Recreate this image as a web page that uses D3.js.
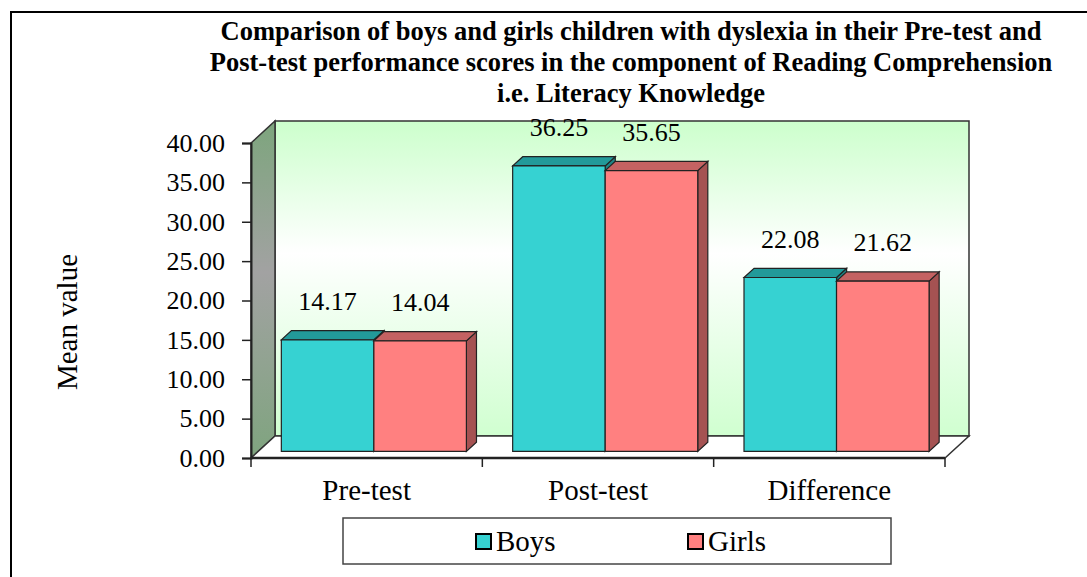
<!DOCTYPE html>
<html>
<head>
<meta charset="utf-8">
<script src="https://cdn.jsdelivr.net/npm/d3@7"></script>
<style>
  body { margin: 0; background: #fff; }
  svg text { font-family: "Liberation Serif", "Times New Roman", serif !important; fill: #000; }
</style>
</head>
<body>
<script>
// Chart data
var categories = ["Pre-test", "Post-test", "Difference"];
var seriesNames = ["Boys", "Girls"];
var boysValues = [14.17, 36.25, 22.08];
var girlsValues = [14.04, 35.65, 21.62];
var yTicks = [0, 5, 10, 15, 20, 25, 30, 35, 40];
var titleLines = [
  "Comparison of boys and girls children with dyslexia in their Pre-test and",
  "Post-test performance scores in the component of Reading Comprehension",
  "i.e. Literacy Knowledge"
];

var width = 1087, height = 577;
var serif = "'Liberation Serif', 'Times New Roman', serif";

// plot geometry (front plane)
var plotLeft = 251, plotRight = 945, plotBottom = 458, plotTop = 143;
var depth = [24, -22];          // full depth of the 3d box
var barFront = 0.3, barBack = 0.72;  // where bars sit in the depth

var colors = {
  Boys:  { front: "#36d2d2", top: "#229a9a", side: "#1d8585" },
  Girls: { front: "#ff8080", top: "#c46262", side: "#a55252" }
};

var svg = d3.select("body")
            .append("svg")
            .attr("width", width)
            .attr("height", height)
            .attr("font-family", serif);

var defs = svg.append("defs");
var wallGrad = defs.append("linearGradient")
  .attr("id", "wallGrad").attr("x1", 0).attr("y1", 0).attr("x2", 0).attr("y2", 1);
wallGrad.append("stop").attr("offset", "0%").attr("stop-color", "#ccffcc");
wallGrad.append("stop").attr("offset", "42%").attr("stop-color", "#ffffff");
wallGrad.append("stop").attr("offset", "100%").attr("stop-color", "#d0ffd0");

var sideGrad = defs.append("linearGradient")
  .attr("id", "sideGrad").attr("x1", 0).attr("y1", 0).attr("x2", 0).attr("y2", 1);
sideGrad.append("stop").attr("offset", "0%").attr("stop-color", "#7da57d");
sideGrad.append("stop").attr("offset", "45%").attr("stop-color", "#a2a2a2");
sideGrad.append("stop").attr("offset", "100%").attr("stop-color", "#7fa47f");

// outer frame
svg.append("rect")
   .attr("x", 11).attr("y", 12)
   .attr("width", 1100).attr("height", 600)
   .attr("fill", "none").attr("stroke", "#000").attr("stroke-width", 2);

// scales
var y = d3.scaleLinear().domain([0, 40]).range([plotBottom, plotTop]);
var x = d3.scaleBand().domain(categories).range([plotLeft, plotRight])
          .paddingInner(0.2).paddingOuter(0.1);
var xs = d3.scaleBand().domain(seriesNames).range([0, x.bandwidth()]);

function pt(px, py, t) {
  return [px + depth[0] * t, py + depth[1] * t];
}
function poly(points) {
  return points.map(function(p) { return p.join(","); }).join(" ");
}

// walls and floor
var backL = pt(plotLeft, plotTop, 1), backR = pt(plotRight, plotTop, 1);
var backBL = pt(plotLeft, plotBottom, 1), backBR = pt(plotRight, plotBottom, 1);

svg.append("polygon")
   .attr("points", poly([backL, backR, backBR, backBL]))
   .attr("fill", "url(#wallGrad)").attr("stroke", "#333").attr("stroke-width", 1.5);

svg.append("polygon")
   .attr("points", poly([[plotLeft, plotTop], backL, backBL, [plotLeft, plotBottom]]))
   .attr("fill", "url(#sideGrad)").attr("stroke", "#333").attr("stroke-width", 1.5);

svg.append("polygon")
   .attr("points", poly([[plotLeft, plotBottom], [plotRight, plotBottom], backBR, backBL]))
   .attr("fill", "#ffffff").attr("stroke", "#333").attr("stroke-width", 1.5);

// bars
var data = [];
categories.forEach(function(c, i) {
  data.push({ cat: c, s: "Boys", v: boysValues[i] });
  data.push({ cat: c, s: "Girls", v: girlsValues[i] });
});

var bars = svg.selectAll("g.bar")
  .data(data)
  .enter()
  .append("g")
  .attr("class", "bar");

bars.each(function(d) {
  var g = d3.select(this);
  var x0 = x(d.cat) + xs(d.s), x1 = x0 + xs.bandwidth();
  var yb = plotBottom, yt = y(d.v);
  var fBL = pt(x0, yb, barFront), fBR = pt(x1, yb, barFront);
  var fTL = pt(x0, yt, barFront), fTR = pt(x1, yt, barFront);
  var bTL = pt(x0, yt, barBack), bTR = pt(x1, yt, barBack), bBR = pt(x1, yb, barBack);
  var col = colors[d.s];
  g.append("polygon").attr("points", poly([fBR, fTR, bTR, bBR]))
   .attr("fill", col.side).attr("stroke", "#222").attr("stroke-width", 1.2);
  g.append("polygon").attr("points", poly([fTL, fTR, bTR, bTL]))
   .attr("fill", col.top).attr("stroke", "#222").attr("stroke-width", 1.2);
  g.append("polygon").attr("points", poly([fBL, fBR, fTR, fTL]))
   .attr("fill", col.front).attr("stroke", "#222").attr("stroke-width", 1.2);
  g.append("text")
   .attr("x", (fTL[0] + fTR[0]) / 2)
   .attr("y", fTL[1] - 30)
   .attr("text-anchor", "middle")
   .attr("font-size", "26px")
   .style("font-family", serif)
   .text(d.v.toFixed(2));
});

// y axis
var yAxis = d3.axisLeft(y).tickValues(yTicks).tickSize(9).tickPadding(17)
              .tickFormat(function(d) { return d.toFixed(2); });
var yg = svg.append("g")
   .attr("transform", "translate(" + plotLeft + ",0)")
   .call(yAxis)
   .attr("font-family", serif);
yg.select(".domain").attr("stroke", "#222").attr("stroke-width", 2);
yg.selectAll(".tick line").attr("stroke", "#222").attr("stroke-width", 1.5);
yg.selectAll(".tick text")
  .attr("font-size", "26px").attr("fill", "#000")
  .style("font-family", serif);

// x axis line with category ticks
var xg = svg.append("g");
xg.append("line")
  .attr("x1", plotLeft).attr("x2", plotRight).attr("y1", plotBottom).attr("y2", plotBottom)
  .attr("stroke", "#222").attr("stroke-width", 2.5);
var bounds = [plotLeft].concat(categories.map(function(c) { return x(c) + x.bandwidth() + x.step() * 0.1; }));
xg.selectAll("line.tk")
  .data(bounds)
  .enter().append("line")
  .attr("class", "tk")
  .attr("x1", function(d) { return d; }).attr("x2", function(d) { return d; })
  .attr("y1", plotBottom).attr("y2", plotBottom + 9)
  .attr("stroke", "#222").attr("stroke-width", 1.5);
xg.selectAll("text")
  .data(categories)
  .enter().append("text")
  .attr("x", function(d) { return x(d) + x.bandwidth() / 2; })
  .attr("y", 500)
  .attr("text-anchor", "middle")
  .attr("font-size", "29px")
  .style("font-family", serif)
  .text(function(d) { return d; });

// y axis title
svg.append("text")
   .attr("transform", "translate(77,322) rotate(-90)")
   .attr("text-anchor", "middle")
   .attr("font-size", "29px")
   .style("font-family", serif)
   .text("Mean value");

// title
svg.selectAll("text.title")
   .data(titleLines)
   .enter().append("text")
   .attr("class", "title")
   .attr("x", 631)
   .attr("y", function(d, i) { return 40 + i * 31; })
   .attr("text-anchor", "middle")
   .attr("font-size", "26.5px")
   .attr("font-weight", "bold")
   .style("font-family", serif)
   .text(function(d) { return d; });

// legend
svg.append("rect")
   .attr("x", 343).attr("y", 518).attr("width", 548).attr("height", 46)
   .attr("fill", "#fff").attr("stroke", "#444").attr("stroke-width", 1.5);
var legendX = [476, 688];
var lg = svg.selectAll("g.legend")
   .data(seriesNames)
   .enter().append("g")
   .attr("class", "legend")
   .attr("transform", function(d, i) { return "translate(" + legendX[i] + ",0)"; });
lg.append("rect")
  .attr("x", 0).attr("y", 534).attr("width", 15).attr("height", 15)
  .attr("fill", function(d) { return colors[d].front; })
  .attr("stroke", "#000").attr("stroke-width", 2);
lg.append("text")
  .attr("x", 20).attr("y", 551)
  .attr("font-size", "29px")
  .style("font-family", serif)
  .text(function(d) { return d; });
</script>
</body>
</html>
